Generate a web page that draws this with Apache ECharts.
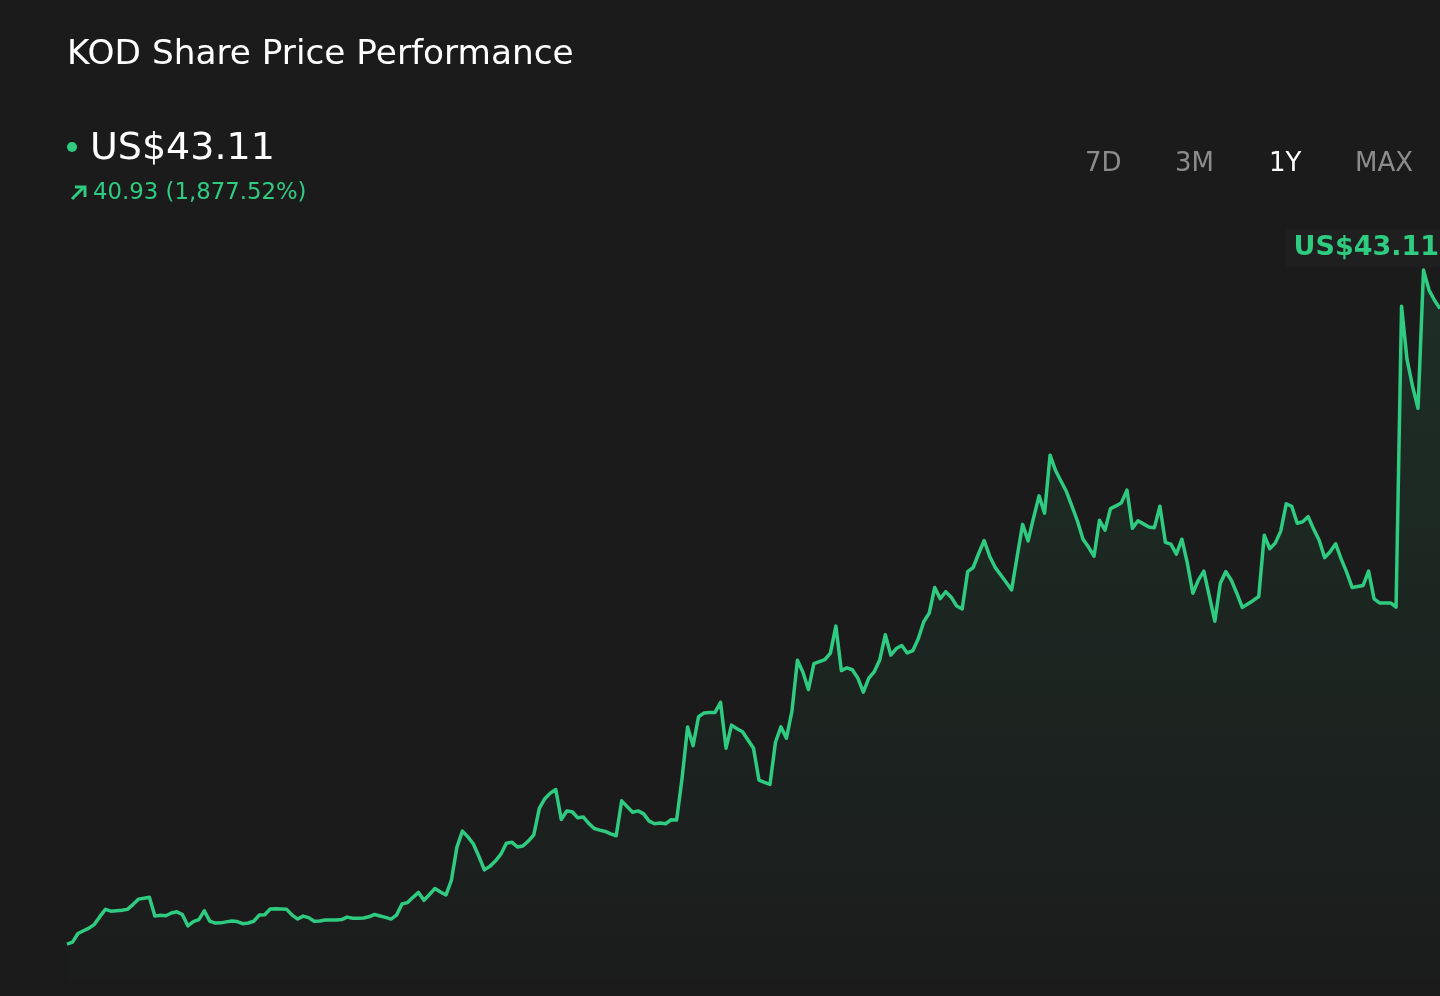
<!DOCTYPE html>
<html>
<head>
<meta charset="utf-8">
<title>KOD Share Price Performance</title>
<script src="https://cdn.jsdelivr.net/npm/echarts@6/dist/echarts.min.js"></script>
<style>
  html, body { margin: 0; padding: 0; background: #1b1b1b; }
  #chart { width: 1440px; height: 996px; }
</style>
</head>
<body>
<div id="chart"></div>
<script>
// closing prices over the last year (one value per session)
const closePrices = [
  2.18, 2.30, 2.82, 2.99, 3.15, 3.38, 3.86, 4.29, 4.18, 4.21,
  4.24, 4.29, 4.58, 4.91, 4.97, 5.03, 3.88, 3.93, 3.90, 4.07,
  4.14, 3.98, 3.29, 3.55, 3.67, 4.20, 3.58, 3.46, 3.47, 3.53,
  3.58, 3.55, 3.42, 3.46, 3.57, 3.94, 3.96, 4.31, 4.33, 4.31,
  4.29, 3.94, 3.70, 3.88, 3.79, 3.57, 3.58, 3.64, 3.64, 3.64,
  3.67, 3.82, 3.75, 3.75, 3.77, 3.84, 3.98, 3.89, 3.80, 3.70,
  3.94, 4.62, 4.70, 5.02, 5.32, 4.84, 5.19, 5.56, 5.34, 5.16,
  6.07, 8.07, 9.04, 8.69, 8.26, 7.50, 6.69, 6.90, 7.22, 7.64,
  8.31, 8.37, 8.08, 8.14, 8.43, 8.82, 10.42, 11.01, 11.35, 11.57,
  9.75, 10.26, 10.22, 9.85, 9.90, 9.51, 9.20, 9.10, 9.02, 8.87,
  8.76, 10.88, 10.53, 10.19, 10.27, 10.09, 9.65, 9.49, 9.54, 9.49,
  9.73, 9.71, 12.27, 15.36, 14.23, 15.99, 16.22, 16.24, 16.25, 16.86,
  14.08, 15.48, 15.26, 15.08, 14.57, 14.08, 12.14, 12.00, 11.88, 14.44,
  15.37, 14.69, 16.33, 19.42, 18.69, 17.64, 19.21, 19.33, 19.46, 19.85,
  21.49, 18.79, 18.96, 18.84, 18.33, 17.48, 18.33, 18.73, 19.45, 20.97,
  19.73, 20.13, 20.31, 19.86, 20.00, 20.72, 21.76, 22.28, 23.84, 23.15,
  23.58, 23.25, 22.71, 22.54, 24.80, 25.05, 25.90, 26.69, 25.74, 25.06,
  24.61, 24.15, 23.69, 25.70, 27.67, 26.67, 28.08, 29.40, 28.35, 31.87,
  30.94, 30.29, 29.65, 28.76, 27.86, 26.77, 26.29, 25.74, 27.92, 27.32,
  28.63, 28.79, 28.99, 29.75, 27.44, 27.89, 27.70, 27.51, 27.47, 28.77,
  26.58, 26.47, 25.86, 26.77, 25.31, 23.49, 24.28, 24.83, 23.31, 21.79,
  24.10, 24.80, 24.28, 23.49, 22.63, 22.84, 23.05, 23.29, 27.01, 26.19,
  26.53, 27.26, 28.92, 28.77, 27.74, 27.83, 28.14, 27.38, 26.71, 25.65,
  26.01, 26.49, 25.57, 24.77, 23.84, 23.90, 23.96, 24.83, 23.15, 22.90,
  22.90, 22.90, 22.64, 40.92, 37.67, 36.06, 34.72, 43.11, 41.90, 41.28,
  40.77
];
const sessions = closePrices.map((_, i) => i + 1);

const ranges = ['7D', '3M', '1Y', 'MAX'];
const rangeX = [1085, 1175, 1269, 1355];
const activeRange = '1Y';

const lastPrice = 43.11;
const priceChange = 40.93;
const changePct = '1,877.52%';

const green = '#2ecb80';
const font = '"DejaVu Sans", Verdana, sans-serif';

const chart = echarts.init(document.getElementById('chart'));

const peakIndex = closePrices.indexOf(Math.max(...closePrices));

const option = {
  backgroundColor: '#1b1b1b',
  animation: false,
  grid: { left: 67, right: 0, top: 239, bottom: 16 },
  xAxis: {
    type: 'category',
    data: sessions,
    boundaryGap: false,
    show: false
  },
  yAxis: {
    type: 'value',
    min: 0,
    max: 45,
    show: false
  },
  graphic: [
    {
      type: 'text',
      left: 67, top: 38,
      style: { text: 'KOD Share Price Performance', font: '34.3px ' + font, fill: '#ffffff' }
    },
    {
      type: 'circle',
      shape: { cx: 72, cy: 147, r: 5 },
      style: { fill: green }
    },
    {
      type: 'text',
      left: 90, top: 130,
      style: { text: 'US$' + lastPrice.toFixed(2), font: '38px ' + font, fill: '#ffffff' }
    },
    // up arrow next to the change figure
    {
      type: 'polyline',
      shape: { points: [[72, 199], [84, 187]] },
      style: { stroke: green, lineWidth: 3, fill: null }
    },
    {
      type: 'polyline',
      shape: { points: [[75, 187], [85, 187], [85, 197]] },
      style: { stroke: green, lineWidth: 3, fill: null, lineJoin: 'miter' }
    },
    {
      type: 'text',
      left: 93, top: 182,
      style: {
        text: priceChange.toFixed(2) + ' (' + changePct + ')',
        font: '22.8px ' + font, fill: green
      }
    }
  ].concat(ranges.map((r, i) => ({
    type: 'text',
    left: rangeX[i], top: 151,
    style: {
      text: r,
      font: '26px ' + font,
      fill: r === activeRange ? '#ffffff' : '#8c8c8c'
    }
  }))),
  series: [
    {
      type: 'line',
      data: closePrices,
      symbol: 'none',
      lineStyle: { color: green, width: 3.5, join: 'round' },
      areaStyle: {
        color: new echarts.graphic.LinearGradient(0, 0, 0, 1, [
          { offset: 0, color: 'rgba(46, 203, 128, 0.16)' },
          { offset: 1, color: 'rgba(46, 203, 128, 0.01)' }
        ])
      },
      markPoint: {
        symbol: 'circle',
        symbolSize: 0,
        data: [{ coord: [peakIndex, closePrices[peakIndex]] }],
        label: {
          show: true,
          formatter: 'US$' + lastPrice.toFixed(2),
          position: [-138, -22],
          align: 'left',
          verticalAlign: 'middle',
          fontFamily: font,
          fontSize: 27,
          fontWeight: 'bold',
          color: green,
          backgroundColor: 'rgba(32, 32, 32, 0.9)',
          padding: [6, 8]
        }
      }
    }
  ]
};

chart.setOption(option);
</script>
</body>
</html>
